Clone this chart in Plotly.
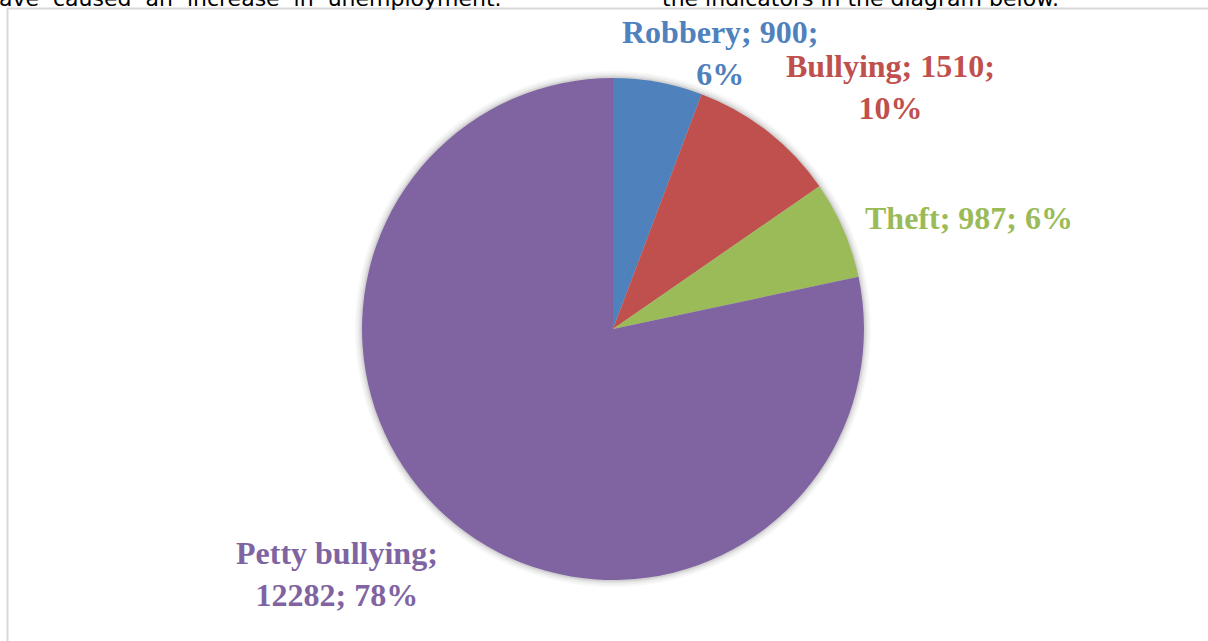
import plotly.graph_objects as go

categories = ["Robbery", "Bullying", "Theft", "Petty bullying"]
values = [900, 1510, 987, 12282]
colors = ["#4F81BD", "#C0504D", "#9BBB59", "#8064A2"]
# where each label wraps: 0 = after name, 1 = after value, None = one line
wraps = [1, 1, None, 0]
# label centre positions (pixels)
label_px = [(720, 53), (890, 87), (969, 218), (337, 574)]

W, H = 1208, 641
total = sum(values)

def px(x):
    return x / W

def py(y):
    return 1 - y / H

cx, cy, r = 613, 329, 251

fig = go.Figure()
fig.add_trace(go.Pie(
    labels=categories, values=values, sort=False, direction="clockwise",
    rotation=0, textinfo="none", hoverinfo="label+value+percent",
    marker=dict(colors=colors, line=dict(width=0)),
    domain=dict(x=[px(cx - r), px(cx + r)], y=[py(cy + r), py(cy - r)]),
    showlegend=False,
))

shapes = []
# soft shadow around the pie
for d, a in [(7, 0.03), (5, 0.04), (3, 0.05), (1.5, 0.07)]:
    shapes.append(dict(type="circle", xref="paper", yref="paper", layer="below",
                       x0=px(cx - r - d), x1=px(cx + r + d),
                       y0=py(cy + r + d), y1=py(cy - r - d),
                       fillcolor=f"rgba(0,0,0,{a})", line=dict(width=0)))
# chart border
shapes.append(dict(type="rect", xref="paper", yref="paper",
                   x0=px(7.5), x1=px(1214), y0=py(660), y1=py(8.5),
                   line=dict(color="#d9d9d9", width=2), fillcolor="rgba(0,0,0,0)"))

serif = "Times New Roman, Liberation Serif, serif"
annotations = []
for cat, val, col, wrap, (lx, ly) in zip(categories, values, colors, wraps, label_px):
    pct = round(val / total * 100)
    parts = [f"{cat};", f"{val};", f"{pct}%"]
    if wrap is None:
        text = " ".join(parts)
    else:
        text = " ".join(parts[:wrap + 1]) + "<br>" + " ".join(parts[wrap + 1:])
    annotations.append(dict(x=px(lx), y=py(ly), xref="paper", yref="paper",
                            text=f"<b>{text}</b>", showarrow=False, align="center",
                            xanchor="center", yanchor="middle",
                            font=dict(family=serif, size=32, color=col)))

# cut-off text of the surrounding document
sp = "&nbsp;&nbsp;"
annotations.append(dict(x=px(-3), y=py(13), xref="paper", yref="paper",
                        text=sp.join(["ave", "caused", "an", "increase", "in", "unemployment."]),
                        showarrow=False, xanchor="left", yanchor="bottom",
                        font=dict(family="DejaVu Sans", size=22, color="#000")))
annotations.append(dict(x=px(660), y=py(13), xref="paper", yref="paper",
                        text="the indicators in the diagram below.",
                        showarrow=False, xanchor="left", yanchor="bottom",
                        font=dict(family="DejaVu Sans", size=22, color="#000")))

fig.update_layout(
    width=W, height=H, margin=dict(l=0, r=0, t=0, b=0),
    paper_bgcolor="white", plot_bgcolor="white",
    shapes=shapes, annotations=annotations,
)

fig.write_html("out.html")
